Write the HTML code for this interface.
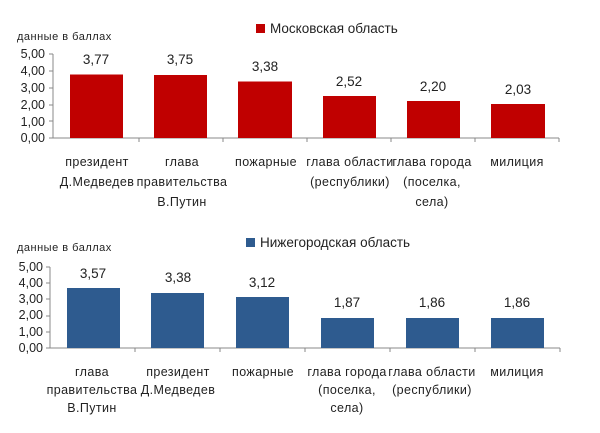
<!DOCTYPE html>
<html><head><meta charset="utf-8"><style>
html,body{margin:0;padding:0;background:#fff;}
svg{display:block;font-family:"Liberation Sans","DejaVu Sans",sans-serif;}
</style></head><body>
<svg width="600" height="433" viewBox="0 0 600 433" xmlns="http://www.w3.org/2000/svg">
<!-- TOP CHART -->
<text x="17" y="40" font-size="11" fill="#222" letter-spacing="0.5">данные в баллах</text>
<rect x="256" y="24" width="9" height="9" fill="#c00000"/>
<text x="270" y="33" font-size="13.5" fill="#222">Московская область</text>
<g font-size="12.5" fill="#222" text-anchor="end">
<text x="45" y="58">5,00</text><text x="45" y="75">4,00</text><text x="45" y="92">3,00</text>
<text x="45" y="109">2,00</text><text x="45" y="126">1,00</text><text x="45" y="142">0,00</text>
</g>
<g stroke="#888" stroke-width="1">
<line x1="53" y1="54" x2="53" y2="138"/>
<line x1="49" y1="54" x2="53" y2="54"/><line x1="49" y1="71" x2="53" y2="71"/><line x1="49" y1="88" x2="53" y2="88"/>
<line x1="49" y1="105" x2="53" y2="105"/><line x1="49" y1="121" x2="53" y2="121"/><line x1="49" y1="138" x2="53" y2="138"/>
<line x1="53" y1="138" x2="559" y2="138"/>
<line x1="139" y1="138" x2="139" y2="142"/><line x1="223" y1="138" x2="223" y2="142"/><line x1="307" y1="138" x2="307" y2="142"/>
<line x1="391" y1="138" x2="391" y2="142"/><line x1="475" y1="138" x2="475" y2="142"/><line x1="559" y1="138" x2="559" y2="142"/>
</g>
<g fill="#c00000">
<rect x="70" y="74.5" width="53" height="63.5"/>
<rect x="154" y="75" width="53" height="63"/>
<rect x="238" y="81.5" width="54" height="56.5"/>
<rect x="323" y="96" width="53" height="42"/>
<rect x="407" y="101" width="53" height="37"/>
<rect x="491" y="104" width="54" height="34"/>
</g>
<g font-size="13.5" fill="#222" text-anchor="middle">
<text x="96" y="64">3,77</text><text x="180" y="64">3,75</text><text x="265" y="71">3,38</text>
<text x="349" y="86">2,52</text><text x="433" y="91">2,20</text><text x="518" y="94">2,03</text>
</g>
<g font-size="12.5" fill="#222" text-anchor="middle" letter-spacing="0.4">
<text x="97" y="166">президент</text><text x="97" y="186">Д.Медведев</text>
<text x="182" y="166">глава</text><text x="182" y="186">правительства</text><text x="182" y="206">В.Путин</text>
<text x="266" y="166">пожарные</text>
<text x="350" y="166">глава области</text><text x="350" y="186">(республики)</text>
<text x="432" y="166">глава  города</text><text x="432" y="186">(поселка,</text><text x="432" y="206">села)</text>
<text x="517" y="166">милиция</text>
</g>

<!-- BOTTOM CHART -->
<text x="17" y="251" font-size="11" fill="#222" letter-spacing="0.5">данные в баллах</text>
<rect x="246" y="238" width="9" height="9" fill="#2e5b8f"/>
<text x="260" y="247" font-size="13.5" fill="#222">Нижегородская область</text>
<g font-size="12.5" fill="#222" text-anchor="end">
<text x="43" y="271">5,00</text><text x="43" y="287">4,00</text><text x="43" y="303">3,00</text>
<text x="43" y="319">2,00</text><text x="43" y="336">1,00</text><text x="43" y="352">0,00</text>
</g>
<g stroke="#888" stroke-width="1">
<line x1="50" y1="267" x2="50" y2="348"/>
<line x1="46" y1="267" x2="50" y2="267"/><line x1="46" y1="283" x2="50" y2="283"/><line x1="46" y1="299" x2="50" y2="299"/>
<line x1="46" y1="316" x2="50" y2="316"/><line x1="46" y1="332" x2="50" y2="332"/><line x1="46" y1="348" x2="50" y2="348"/>
<line x1="50" y1="348" x2="560" y2="348"/>
<line x1="135" y1="348" x2="135" y2="352"/><line x1="220" y1="348" x2="220" y2="352"/><line x1="305" y1="348" x2="305" y2="352"/>
<line x1="390" y1="348" x2="390" y2="352"/><line x1="475" y1="348" x2="475" y2="352"/><line x1="560" y1="348" x2="560" y2="352"/>
</g>
<g fill="#2e5b8f">
<rect x="67" y="288" width="53" height="60"/>
<rect x="151" y="293" width="53" height="55"/>
<rect x="236" y="297" width="53" height="51"/>
<rect x="321" y="318" width="53" height="30"/>
<rect x="406" y="318" width="53" height="30"/>
<rect x="491" y="318" width="53" height="30"/>
</g>
<g font-size="13.5" fill="#222" text-anchor="middle">
<text x="93" y="278">3,57</text><text x="178" y="282">3,38</text><text x="262" y="287">3,12</text>
<text x="347" y="307">1,87</text><text x="432" y="307">1,86</text><text x="517" y="307">1,86</text>
</g>
<g font-size="12.5" fill="#222" text-anchor="middle" letter-spacing="0.4">
<text x="92" y="376">глава</text><text x="92" y="394">правительства</text><text x="92" y="412">В.Путин</text>
<text x="178" y="376">президент</text><text x="178" y="394">Д.Медведев</text>
<text x="263" y="376">пожарные</text>
<text x="347" y="376">глава  города</text><text x="347" y="394">(поселка,</text><text x="347" y="412">села)</text>
<text x="432" y="376">глава области</text><text x="432" y="394">(республики)</text>
<text x="517" y="376">милиция</text>
</g>
</svg>
</body></html>
